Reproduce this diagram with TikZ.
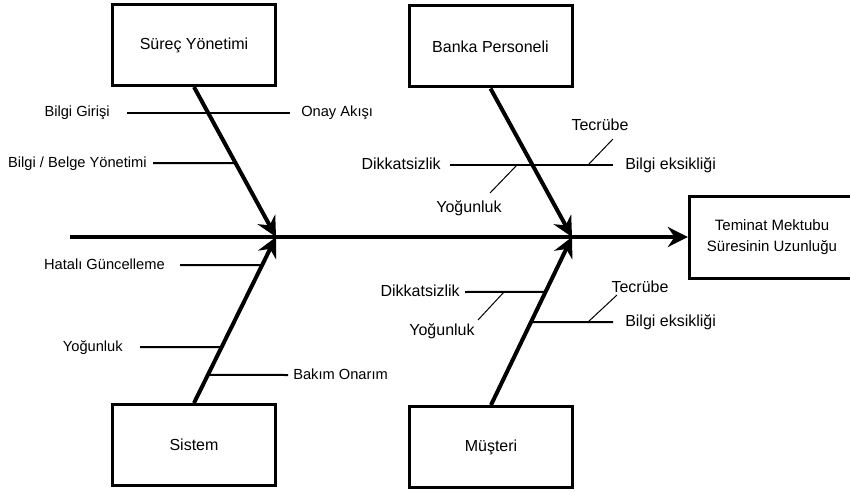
\documentclass[tikz,border=0pt]{standalone}
\usepackage{fontspec}
\setmainfont{Liberation Sans}
\usetikzlibrary{arrows.meta,positioning,calc}

\tikzset{
  cause/.style={draw, line width=2.25pt, minimum width=122.25pt, minimum height=60.75pt, font=\fontsize{12}{14}\selectfont},
  lbl/.style={inner sep=0pt, text height=8pt, text depth=2pt, font=\fontsize{11}{13}\selectfont},
  lblr/.style={inner sep=0pt, text height=8.7pt, text depth=2.2pt, font=\fontsize{12}{14}\selectfont},
  bone/.style={line width=3pt, -{Stealth[length=15pt,width=15pt,inset=5pt]}},
  twig/.style={line width=1.5pt},
  hair/.style={line width=0.75pt}
}

\begin{document}
\begin{tikzpicture}[x=0.75pt,y=-0.75pt]
  \useasboundingbox (0,0) rectangle (850,492);
  \clip (0,0) rectangle (850,492);

  \node[cause] (proc) at (194,45) {Süreç Yönetimi};
  \node[cause] (staff) at (490.5,46.5) {Banka Personeli};
  \node[cause] (sys) at (194,445) {Sistem};
  \node[cause] (cust) at (491,447) {Müşteri};
  \node[cause, minimum width=124pt, minimum height=61.5pt, align=center, font=\fontsize{11.25}{16}\selectfont] (effect) at (772,237) {Teminat Mektubu\\Süresinin Uzunluğu};

  \coordinate (tail) at (70,237);
  \coordinate (headA) at (276,237);
  \coordinate (headB) at (572,237);

  \draw[bone] (tail) -- (effect);
  \draw[bone] (proc.south) -- (headA);
  \draw[bone] (sys.north) -- (headA);
  \draw[bone] (staff.south) -- (headB);
  \draw[bone] (cust.north) -- (headB);

  \coordinate (a1) at (127,113);
  \coordinate (a2) at (290,113);
  \node[lbl, left=12.75pt of a1] (girisi) {Bilgi Girişi};
  \node[lbl, right=8.25pt of a2] (onay) {Onay Akışı};
  \draw[twig] (a1) -- (a2);

  \coordinate (b1) at (153,163);
  \coordinate (b2) at ($(proc.south)!0.507!(headA)$);
  \node[lbl, left=4.5pt of b1] (belge) {Bilgi / Belge Yönetimi};
  \draw[twig] (b1) -- (b2);

  \coordinate (c1) at (180,265);
  \coordinate (c2) at ($(sys.north)!0.831!(headA)$);
  \node[lbl, left=11.25pt of c1] (hatali) {Hatalı Güncelleme};
  \draw[twig] (c1) -- (c2);

  \coordinate (d1) at (140,347);
  \coordinate (d2) at ($(sys.north)!0.337!(headA)$);
  \node[lbl, left=12.75pt of d1] (yogunA) {Yoğunluk};
  \draw[twig] (d1) -- (d2);

  \coordinate (e1) at ($(sys.north)!0.169!(headA)$);
  \coordinate (e2) at (288,375);
  \node[lbl, right=3.75pt of e2] (bakim) {Bakım Onarım};
  \draw[twig] (e1) -- (e2);

  \coordinate (f1) at (450,165);
  \coordinate (f2) at (613,165);
  \node[lblr, left=6.75pt of f1] (dikkatB) {Dikkatsizlik};
  \node[lblr, right=9pt of f2] (eksikB) {Bilgi eksikliği};
  \draw[twig] (f1) -- (f2);

  \coordinate (g1) at (588,165);
  \coordinate (g2) at (613,139);
  \node[lblr] (tecrubeB) at (600,126) {Tecrübe};
  \draw[hair] (g1) -- (g2);

  \coordinate (h1) at (517,165);
  \coordinate (h2) at (490,193);
  \node[lblr] (yogunB) at (469,208) {Yoğunluk};
  \draw[hair] (h1) -- (h2);

  \coordinate (k1) at (465,292);
  \coordinate (k2) at ($(cust.north)!0.673!(headB)$);
  \node[lblr, left=3.75pt of k1] (dikkatC) {Dikkatsizlik};
  \draw[twig] (k1) -- (k2);

  \coordinate (m1) at ($(cust.north)!0.494!(headB)$);
  \coordinate (m2) at (613,322);
  \node[lblr, right=9pt of m2] (eksikC) {Bilgi eksikliği};
  \draw[twig] (m1) -- (m2);

  \coordinate (n1) at (504,292);
  \coordinate (n2) at (478,320);
  \node[lblr] (yogunC) at (442,331) {Yoğunluk};
  \draw[hair] (n1) -- (n2);

  \coordinate (p1) at (588,322);
  \coordinate (p2) at (617,295);
  \node[lblr] (tecrubeC) at (640,288) {Tecrübe};
  \draw[hair] (p1) -- (p2);

\end{tikzpicture}
\end{document}
